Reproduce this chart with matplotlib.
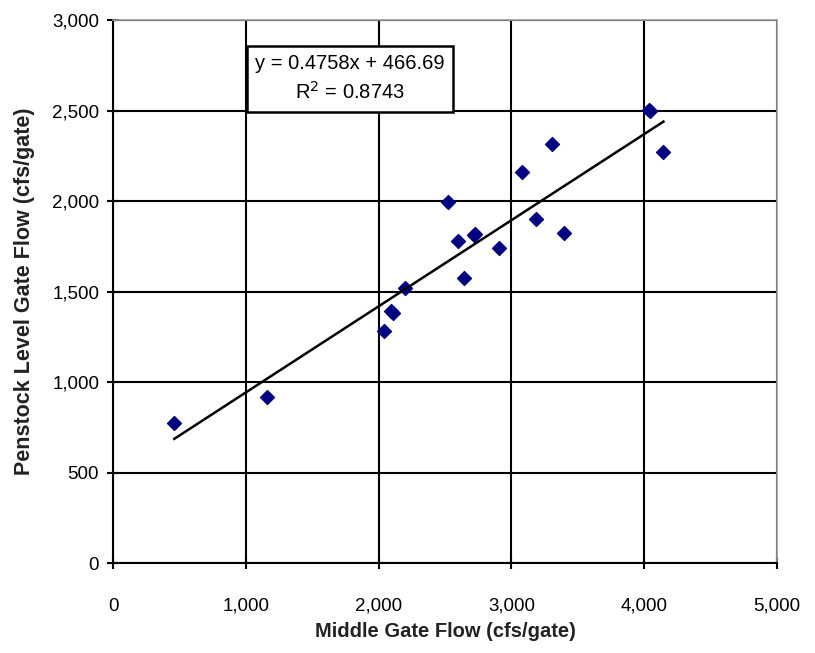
import matplotlib.pyplot as plt
import numpy as np
from matplotlib.ticker import FuncFormatter

plt.rcParams['font.family'] = ['Liberation Sans', 'DejaVu Sans']

middle_flow = [461, 1157, 2042, 2095, 2110, 2201, 2519, 2595, 2640, 2715,
               2725, 2905, 3079, 3185, 3306, 3396, 4035, 4045, 4145]
penstock_flow = [771, 920, 1284, 1395, 1383, 1521, 1994, 1780, 1576, 1810,
                 1818, 1741, 2160, 1901, 2314, 1824, 2505, 2495, 2270]
slope = 0.4758
intercept = 466.69
eq_text = 'y = 0.4758x + 466.69\nR$^2$ = 0.8743'

fig = plt.figure(figsize=(8.15, 6.53), dpi=100)
ax = fig.add_axes([0.1387, 0.1378, 0.8147, 0.8315])

ax.grid(True, color='black', linewidth=1.5)
ax.set_axisbelow(True)

ax.scatter(middle_flow, penstock_flow, marker='D', s=50, color='#000080',
           edgecolors='#000080', zorder=3)

xs = np.array([min(middle_flow), max(middle_flow)])
ax.plot(xs, slope * xs + intercept, color='black', linewidth=1.8, zorder=4)

ax.set_xlim(0, 5000)
ax.set_ylim(0, 3000)
ax.set_xticks(np.arange(0, 5001, 1000))
ax.set_yticks(np.arange(0, 3001, 500))
fmt = FuncFormatter(lambda v, p: f'{int(v):,}')
ax.xaxis.set_major_formatter(fmt)
ax.yaxis.set_major_formatter(fmt)
ax.tick_params(direction='inout', length=8, width=1.5, labelsize=13.5,
               colors='black', pad=6)
ax.tick_params(axis='x', pad=21)

for s in ['top', 'right']:
    ax.spines[s].set_color('#999999')
    ax.spines[s].set_linewidth(1.2)
for s in ['left', 'bottom']:
    ax.spines[s].set_color('black')
    ax.spines[s].set_linewidth(1.5)

ax.set_xlabel('Middle Gate Flow (cfs/gate)', fontsize=14.5, fontweight='bold',
              color='#222222', labelpad=5)
ax.set_ylabel('Penstock Level Gate Flow (cfs/gate)', fontsize=15.5,
              fontweight='bold', color='#222222', labelpad=12)

ax.text(0.357, 0.892, eq_text, transform=ax.transAxes, ha='center', va='center',
        fontsize=14.5, linespacing=1.45, zorder=6,
        bbox=dict(boxstyle='square,pad=0.42', facecolor='white',
                  edgecolor='black', linewidth=1.8))

fig.savefig('out.png', dpi=100)
